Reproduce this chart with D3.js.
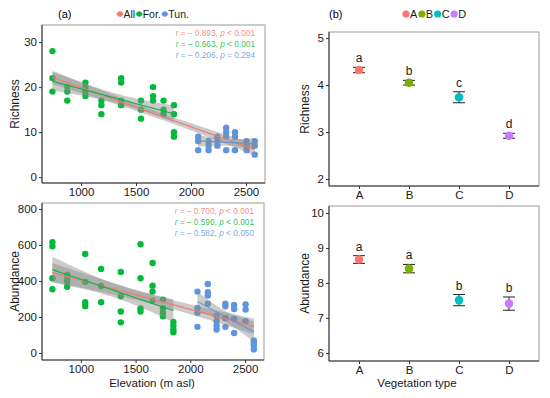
<!DOCTYPE html>
<html><head><meta charset="utf-8">
<script src="https://cdn.jsdelivr.net/npm/d3@7"></script>
<style>
body{margin:0;background:#fff;}
text{font-family:"Liberation Sans",Arial,sans-serif;}
</style></head>
<body><div id="chart"></div>
<script>
// site elevations (m asl)
const forestElev = [740, 875, 1040, 1185, 1365, 1545, 1655, 1750, 1845];
const tundraElev = [2065, 2160, 2240, 2320, 2400, 2505, 2580];

// richness per site
const forestRich = [[28,22,19],[20,19,17],[21,20,19,18],[17,16,14],[22,21,17,16],[17,15,13],[20,18,17],[17,15,14],[16,14,10,9]];
const tundraRich = [[9,8,6],[8,7,6],[9,8,7],[11,10,9,6],[10,9,6],[8,7,6],[8,7,5]];

// abundance per site
const forestAbun = [[615,593,415,354],[435,410,395,368],[550,395,282,260],[467,372,282],[450,315,230,170],[604,415,248,230],[500,374,341,291],[296,248,222,204],[172,152,130,115]];
const tundraAbun = [[341,250,224,145],[383,337,319,274],[207,176,152,130],[274,259,194,145],[267,244,189,111],[270,241,176],[70,55,40,20]];

// correlation labels
const richR = ["0.893", "0.663", "0.206"];
const richP = ["< 0.001", "< 0.001", "= 0.294"];
const abunR = ["0.700", "0.590", "0.582"];
const abunP = ["< 0.001", "< 0.001", "< 0.050"];

// vegetation types
const vegTypes = ["A", "B", "C", "D"];
const richMean = [4.32, 4.05, 3.74, 2.92];
const richSE = [0.057, 0.05, 0.117, 0.053];
const richLetters = ["a", "b", "c", "d"];
const abunMean = [8.67, 8.41, 7.51, 7.41];
const abunSE = [0.11, 0.12, 0.16, 0.19];
const abunLetters = ["a", "a", "b", "b"];

const groupNames = ["All", "For.", "Tun."];
const groupCols = ["#F8766D", "#00BA38", "#5D95DE"];
const vegCols = ["#F8766D", "#7CAE00", "#00BFC4", "#C77CFF"];

const svg = d3.select("#chart").append("svg")
    .attr("width", 550).attr("height", 398);

function toPts(elev, vals) {
    const out = [];
    elev.forEach((e, i) => vals[i].forEach(v => out.push({x: e, y: v})));
    return out;
}

// linear fit with 95% confidence band
function fit(pts) {
    const n = pts.length;
    const mx = d3.mean(pts, d => d.x), my = d3.mean(pts, d => d.y);
    const sxx = d3.sum(pts, d => (d.x - mx) ** 2);
    const sxy = d3.sum(pts, d => (d.x - mx) * (d.y - my));
    const b = sxy / sxx, a = my - b * mx;
    const s = Math.sqrt(d3.sum(pts, d => (d.y - a - b * d.x) ** 2) / (n - 2));
    const z = 1.96, t = z + (z ** 3 + z) / (4 * (n - 2));
    const [x0, x1] = d3.extent(pts, d => d.x);
    return d3.range(41).map(i => {
        const x = x0 + (x1 - x0) * i / 40;
        return {x: x, y: a + b * x, se: t * s * Math.sqrt(1 / n + (x - mx) ** 2 / sxx)};
    });
}

function frame(x0, x1, y0, y1) {
    svg.append("rect").attr("x", x0).attr("y", y0)
        .attr("width", x1 - x0).attr("height", y1 - y0)
        .attr("fill", "none").attr("stroke", "#9a9a9a").attr("stroke-width", 1);
    svg.append("line").attr("x1", x0).attr("x2", x0).attr("y1", y0).attr("y2", y1)
        .attr("stroke", "#333").attr("stroke-width", 1);
    svg.append("line").attr("x1", x0).attr("x2", x1).attr("y1", y1).attr("y2", y1)
        .attr("stroke", "#333").attr("stroke-width", 1);
}

function styleAxis(g) {
    g.select(".domain").remove();
    g.selectAll(".tick line").attr("stroke", "#333");
    g.selectAll(".tick text").attr("fill", "#1a1a1a").style("font-size", "11.5px");
}

function scatterPanel(opt) {
    const x = d3.scaleLinear().domain([645, 2673]).range([opt.left, opt.right]);
    const y = d3.scaleLinear().domain(opt.yDomain).range([opt.bottom, opt.top]);
    frame(opt.left, opt.right, opt.top, opt.bottom);

    const fp = toPts(forestElev, opt.forest), tp = toPts(tundraElev, opt.tundra);
    const all = fp.concat(tp);

    svg.append("g").selectAll("circle").data(fp).join("circle")
        .attr("cx", d => x(d.x)).attr("cy", d => y(d.y)).attr("r", 3.2)
        .attr("fill", groupCols[1]);
    svg.append("g").selectAll("circle").data(tp).join("circle")
        .attr("cx", d => x(d.x)).attr("cy", d => y(d.y)).attr("r", 3.2)
        .attr("fill", groupCols[2]);

    const fits = [fit(all), fit(fp), fit(tp)];
    const area = d3.area().x(d => x(d.x)).y0(d => y(d.y - d.se)).y1(d => y(d.y + d.se));
    const line = d3.line().x(d => x(d.x)).y(d => y(d.y));
    fits.forEach(f => {
        svg.append("path").datum(f).attr("d", area)
            .attr("fill", "#8c8c8c").attr("fill-opacity", 0.45);
    });
    fits.forEach((f, i) => {
        svg.append("path").datum(f).attr("d", line)
            .attr("fill", "none").attr("stroke", groupCols[i]).attr("stroke-width", 1.1);
    });

    svg.append("g").attr("transform", `translate(0,${opt.bottom})`)
        .call(d3.axisBottom(x).tickValues([1000, 1500, 2000, 2500])
            .tickFormat(d3.format("d")).tickSize(3).tickPadding(2))
        .call(styleAxis);
    svg.append("g").attr("transform", `translate(${opt.left},0)`)
        .call(d3.axisLeft(y).tickValues(opt.ticks).tickFormat(d3.format("d"))
            .tickSize(3).tickPadding(2))
        .call(styleAxis);

    svg.append("text").attr("transform", `translate(19,${(opt.top + opt.bottom) / 2}) rotate(-90)`)
        .attr("text-anchor", "middle").style("font-size", "12px").attr("fill", "#1a1a1a")
        .text(opt.title);

    // correlation labels
    opt.r.forEach((r, i) => {
        const t = svg.append("text").attr("x", opt.right - 10).attr("y", opt.top + 11 + i * 11)
            .attr("text-anchor", "end").style("font-size", "8.3px").attr("fill", groupCols[i])
            .attr("fill-opacity", 0.85);
        t.append("tspan").style("font-style", "italic").text("r");
        t.append("tspan").text(" = \u2013 " + r + ", ");
        t.append("tspan").style("font-style", "italic").text("p");
        t.append("tspan").text(" " + opt.p[i]);
    });
}

scatterPanel({left: 42, right: 265, top: 25, bottom: 183, yDomain: [-1.3, 33.8],
    ticks: [0, 10, 20, 30], forest: forestRich, tundra: tundraRich,
    title: "Richness", r: richR, p: richP});
scatterPanel({left: 42, right: 264, top: 203, bottom: 360, yDomain: [-39, 833],
    ticks: [0, 200, 400, 600, 800], forest: forestAbun, tundra: tundraAbun,
    title: "Abundance", r: abunR, p: abunP});

svg.append("text").attr("x", 152).attr("y", 387).attr("text-anchor", "middle")
    .style("font-size", "11.5px").attr("fill", "#1a1a1a").text("Elevation (m asl)");

// vegetation type panels
function vegPanel(opt) {
    const x = d3.scalePoint().domain(vegTypes).range([opt.left, opt.right]).padding(0.6);
    const y = d3.scaleLinear().domain(opt.yDomain).range([opt.bottom, opt.top]);
    frame(opt.left, opt.right, opt.top, opt.bottom);

    const data = vegTypes.map((k, i) => ({k: k, m: opt.mean[i], se: opt.se[i], lab: opt.letters[i]}));
    const g = svg.append("g");
    data.forEach((d, i) => {
        const cx = x(d.k);
        g.append("line").attr("x1", cx).attr("x2", cx)
            .attr("y1", y(d.m - d.se)).attr("y2", y(d.m + d.se)).attr("stroke", "#222");
        [d.m - d.se, d.m + d.se].forEach(v => {
            g.append("line").attr("x1", cx - 6).attr("x2", cx + 6)
                .attr("y1", y(v)).attr("y2", y(v)).attr("stroke", "#222");
        });
        g.append("circle").attr("cx", cx).attr("cy", y(d.m)).attr("r", 4.3).attr("fill", vegCols[i]);
        g.append("text").attr("x", cx).attr("y", y(d.m + d.se) - 5)
            .attr("text-anchor", "middle").style("font-size", "12px").attr("fill", "#1a1a1a")
            .text(d.lab);
    });

    svg.append("g").attr("transform", `translate(0,${opt.bottom})`)
        .call(d3.axisBottom(x).tickSize(3).tickPadding(2)).call(styleAxis);
    svg.append("g").attr("transform", `translate(${opt.left},0)`)
        .call(d3.axisLeft(y).tickValues(opt.ticks).tickFormat(d3.format("d"))
            .tickSize(3).tickPadding(2)).call(styleAxis);

    svg.append("text").attr("transform", `translate(309,${(opt.top + opt.bottom) / 2}) rotate(-90)`)
        .attr("text-anchor", "middle").style("font-size", "12px").attr("fill", "#1a1a1a")
        .text(opt.title);
}

vegPanel({left: 329, right: 539, top: 32, bottom: 186, yDomain: [1.85, 5.13],
    ticks: [2, 3, 4, 5], mean: richMean, se: richSE, letters: richLetters, title: "Richness"});
vegPanel({left: 329, right: 539, top: 206, bottom: 361, yDomain: [5.77, 10.2],
    ticks: [6, 7, 8, 9, 10], mean: abunMean, se: abunSE, letters: abunLetters, title: "Abundance"});

svg.append("text").attr("x", 417).attr("y", 387).attr("text-anchor", "middle")
    .style("font-size", "11.5px").attr("fill", "#1a1a1a").text("Vegetation type");

// panel tags and legends
svg.append("text").attr("x", 58).attr("y", 18).style("font-size", "11px").text("(a)");
svg.append("text").attr("x", 329).attr("y", 18).style("font-size", "11px").text("(b)");

let lx = 120;
groupNames.forEach((n, i) => {
    svg.append("line").attr("x1", lx - 3.5).attr("x2", lx + 3.5)
        .attr("y1", 14).attr("y2", 14).attr("stroke", groupCols[i]).attr("stroke-width", 1.2);
    svg.append("circle").attr("cx", lx).attr("cy", 14).attr("r", 2.8).attr("fill", groupCols[i]);
    const t = svg.append("text").attr("x", lx + 3.5).attr("y", 18).style("font-size", "10.5px")
        .attr("fill", "#1a1a1a").text(n);
    lx += 3.5 + t.node().getComputedTextLength() + 4;
});

let bx = 406;
vegTypes.forEach((n, i) => {
    svg.append("circle").attr("cx", bx).attr("cy", 14).attr("r", 3.6).attr("fill", vegCols[i]);
    const t = svg.append("text").attr("x", bx + 4).attr("y", 18).style("font-size", "11px")
        .attr("fill", "#1a1a1a").text(n);
    bx += 4 + t.node().getComputedTextLength() + 4.5;
});
</script>
</body></html>
